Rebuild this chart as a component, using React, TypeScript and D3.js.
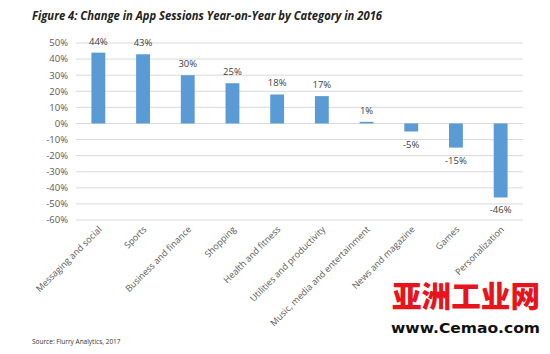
import React from 'react';
import * as d3 from 'd3';

const categories = [
  'Messaging and social',
  'Sports',
  'Business and finance',
  'Shopping',
  'Health and fitness',
  'Utilities and productivity',
  'Music, media and entertainment',
  'News and magazine',
  'Games',
  'Personalization',
];
const values = [44, 43, 30, 25, 18, 17, 1, -5, -15, -46];
const yTicks = [50, 40, 30, 20, 10, 0, -10, -20, -30, -40, -50, -60];

const W = 550;
const H = 354;
const margin = { left: 76, right: 27, top: 43, bottom: 134 };

const App = () => {
  const x = d3
    .scaleBand<string>()
    .domain(categories)
    .range([margin.left, W - margin.right])
    .paddingInner(0.69)
    .paddingOuter(0.345);
  const y = d3.scaleLinear().domain([-60, 50]).range([H - margin.bottom, margin.top]);
  const font = '"Open Sans", sans-serif';

  return (
    <svg
      width={W}
      height={H}
      style={{ position: 'absolute', left: 0, top: 0, background: '#fff' }}
    >
      <text x={32} y={20} fontFamily={font} fontStyle="italic" fontWeight="bold" fontSize={12} fill="#222"
        textLength={350} lengthAdjust="spacingAndGlyphs">
        Figure 4: Change in App Sessions Year-on-Year by Category in 2016
      </text>

      {/* grid + y labels */}
      {yTicks.map((t) => (
        <g key={t}>
          <line x1={margin.left} x2={W - margin.right} y1={y(t)} y2={y(t)} stroke="#d9d9d9" strokeWidth={1} />
          <text x={68} y={y(t)} dy="0.35em" textAnchor="end" fontFamily={font} fontSize={9.5} fill="#595959">
            {t}%
          </text>
        </g>
      ))}

      {/* bars */}
      {categories.map((c, i) => {
        const v = values[i];
        const y0 = y(0);
        const y1 = y(v);
        return (
          <g key={c}>
            <rect
              x={x(c)!}
              y={Math.min(y0, y1)}
              width={x.bandwidth()}
              height={Math.max(1, Math.abs(y1 - y0))}
              fill="#5b9bd5"
            />
            <text
              x={x(c)! + x.bandwidth() / 2}
              y={v >= 0 ? y1 - 8 : y1 + 16}
              textAnchor="middle"
              fontFamily={font}
              fontSize={9.5}
              fill="#404040"
            >
              {v}%
            </text>
            <text
              transform={`translate(${x(c)! + x.bandwidth() / 2 + 4},${H - margin.bottom + 10}) rotate(-45)`}
              textAnchor="end"
              fontFamily={font}
              fontSize={9}
              fill="#595959"
            >
              {c}
            </text>
          </g>
        );
      })}

      <text x={32} y={344} fontFamily={font} fontSize={6.5} fill="#333">
        Source: Flurry Analytics, 2017
      </text>

      {/* watermark */}
      <text x={392} y={307} fontFamily='"Noto Sans CJK SC", sans-serif' fontWeight="900" fontSize={30} fill="#e8141b"
        textLength={148} lengthAdjust="spacingAndGlyphs">
        亚洲工业网
      </text>
      <text x={391} y={333} fontFamily='"DejaVu Sans", sans-serif' fontWeight="bold" fontSize={13.5} fill="#111"
        textLength={149} lengthAdjust="spacingAndGlyphs">
        www.Cemao.com
      </text>
    </svg>
  );
};

export default App;
